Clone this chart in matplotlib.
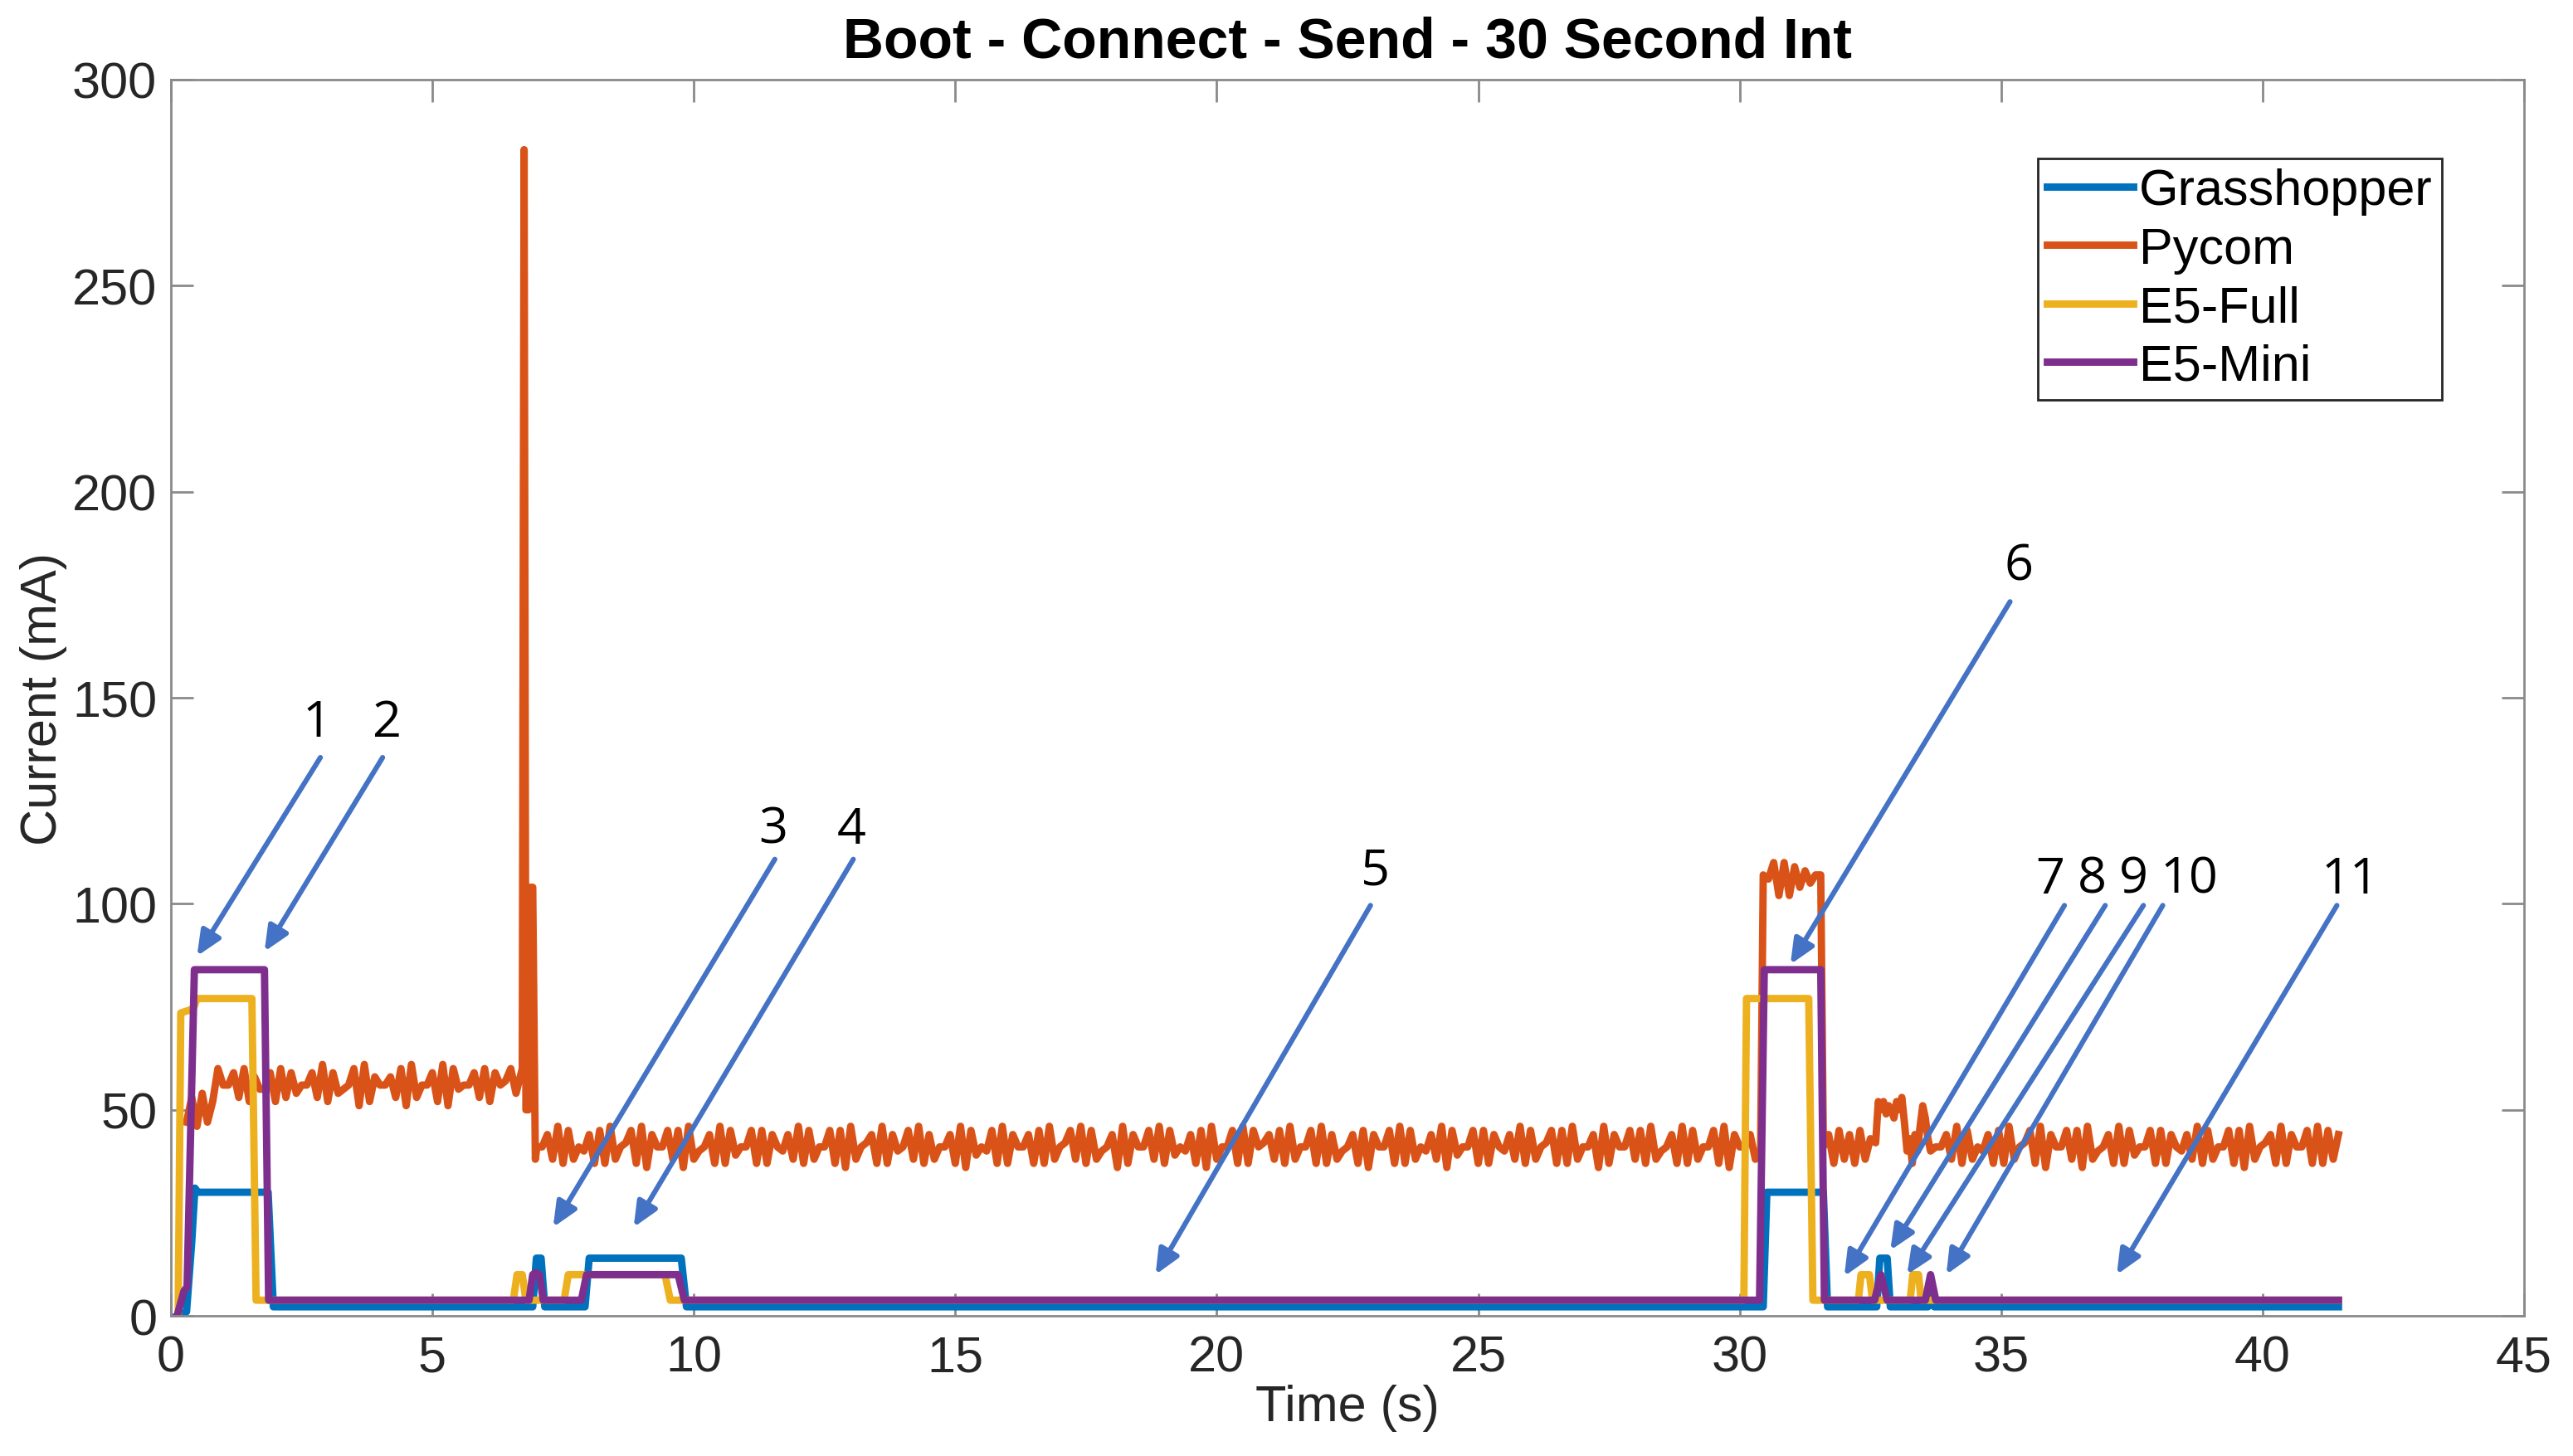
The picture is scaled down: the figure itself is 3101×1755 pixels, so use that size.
import numpy as np
import matplotlib as mpl
mpl.use('Agg')
import matplotlib.pyplot as plt


mpl.rcParams.update({
    'font.family':      ['Liberation Sans', 'DejaVu Sans'],
    'font.size':        22,
    'axes.linewidth':   1.0,
    'axes.edgecolor':   '#8a8a8a',
    'xtick.color':      '#8a8a8a', 'ytick.color': '#8a8a8a',
    'xtick.labelcolor': '#262626', 'ytick.labelcolor': '#262626',
    'xtick.direction':  'in', 'ytick.direction': 'in',
    'figure.facecolor': 'white', 'axes.facecolor': 'white',
})

# ---------------- data (time in s, current in mA) ----------------
GH_T = [0.12, 0.30, 0.40, 0.46, 0.52, 1.86, 1.96, 6.92, 6.99, 7.08, 7.15, 7.92, 8.00,
        9.76, 9.86, 30.45, 30.52, 31.60, 31.68, 32.62, 32.68, 32.82, 32.88, 33.60,
        33.66, 33.72, 41.45]
GH_I = [0, 1, 18, 31, 30, 30, 2.2, 2.2, 14, 14, 2.2, 2.2, 14,
        14, 2.2, 2.2, 30, 30, 2.2, 2.2, 14, 14, 2.2, 2.2,
        6, 2.2, 2.2]

E5F_T = [0.14, 0.19, 0.43, 0.50, 1.55, 1.63, 6.55, 6.62, 6.72, 6.79, 7.52, 7.60,
         9.45, 9.55, 30.08, 30.13, 31.32, 31.40, 32.27, 32.32, 32.48, 32.54, 33.26,
         33.31, 33.42, 33.47, 41.45]
E5F_I = [0, 73.5, 74.5, 77, 77, 3.8, 3.8, 10, 10, 3.8, 3.8, 10,
         10, 3.8, 3.8, 77, 77, 3.8, 3.8, 10, 10, 3.8, 3.8,
         10, 10, 3.8, 3.8]

E5M_T = [0.12, 0.25, 0.31, 0.45, 1.79, 1.87, 6.85, 6.92, 6.98, 7.05, 7.12, 7.85,
         7.95, 9.70, 9.82, 30.38, 30.47, 31.55, 31.62, 32.58, 32.70, 32.82, 33.55,
         33.65, 33.75, 41.45]
E5M_I = [0, 6, 7, 84, 84, 3.8, 3.8, 10, 10.5, 10, 3.8, 3.8,
         10, 10, 3.8, 3.8, 84, 84, 3.8, 3.8, 10, 3.8, 3.8,
         10, 3.8, 3.8]

# Pycom trace, piece by piece: (start time, sample step, values)
PY_BOOT_T0, PY_BOOT_DT = 0.30, 0.1
PY_BOOT = [47, 53, 46, 54, 47, 52, 60, 56, 56, 59,
           53, 60, 52, 58, 55, 55, 59, 52, 60, 53,
           59, 54, 56, 56, 59, 53, 61, 52, 59, 54,
           55, 56, 60, 51, 61, 52, 58, 56, 56, 58,
           53, 60, 51, 61, 53, 56, 56, 59, 52, 61,
           51, 60, 55, 56, 56, 59, 53, 60, 52, 59,
           56, 57, 60, 54, 59]

PY_SPIKE_T = [6.72, 6.755, 6.79, 6.84, 6.87, 6.92, 6.97]
PY_SPIKE = [60, 283, 50, 50, 104, 104, 38]

PY_IDLE1_T0, PY_IDLE1_DT = 7.0, 0.1
PY_IDLE1 = [41, 41, 44, 38, 46, 37, 45, 38, 41, 40, 44, 37, 45, 37, 46, 38, 41, 42, 45, 37, 46, 36, 44,
            41, 41, 45, 38, 45, 36, 46, 38, 40, 41, 44, 37, 46, 37, 45, 39, 41, 41, 45, 37, 45, 37, 44,
            41, 40, 44, 38, 46, 37, 45, 38, 41, 41, 45, 37, 45, 36, 46, 38, 41, 42, 44, 37, 46, 37, 44,
            40, 41, 45, 38, 46, 37, 44, 38, 41, 41, 44, 37, 46, 36, 45, 39, 41, 40, 45, 37, 46, 37, 44,
            41, 41, 44, 37, 45, 37, 46, 38, 41, 42, 45, 38, 46, 37, 45, 38, 40, 41, 44, 36, 46, 37, 44,
            41, 41, 45, 38, 46, 37, 45, 39, 41, 40, 44, 37, 45, 36, 46, 38, 41, 41, 45, 37, 46, 37, 45,
            41, 42, 44, 38, 45, 37, 46, 38, 41, 41, 45, 37, 46, 37, 44, 38, 40, 41, 44, 37, 45, 36, 44,
            41, 41, 45, 37, 46, 37, 45, 38, 41, 40, 44, 38, 46, 36, 45, 39, 41, 41, 45, 37, 45, 37, 44,
            41, 40, 44, 38, 46, 37, 45, 38, 41, 42, 45, 37, 45, 37, 46, 38, 41, 41, 44, 36, 46, 37, 44,
            41, 41, 45, 38, 45, 37, 46, 38, 40, 41, 44, 37, 46, 37, 45, 38, 41, 41, 45, 37, 46, 36, 44,
            41, 41, 44, 38, 40]

PY_TX_T0, PY_TX_DT = 30.45, 0.1
PY_TX = [107, 106, 110, 102, 110, 102, 109, 104, 108, 105, 107, 107]

PY_POST_T0, PY_POST_DT = 31.60, 0.1
PY_POST = [41, 44, 37, 45, 38, 44, 37, 45, 38, 43]

PY_RX_T0, PY_RX_DT = 32.60, 0.05
PY_RX = [42, 52, 50, 52, 49, 51, 50, 48, 52, 50, 53, 47, 40, 43, 37, 44, 40, 46, 51, 48, 43, 40]

PY_IDLE2_T0, PY_IDLE2_DT = 33.75, 0.1
PY_IDLE2 = [41, 41, 44, 38, 46, 37, 45, 38, 41, 40, 44, 37, 45, 37, 46, 38, 41, 42, 45, 37, 46, 36, 44,
            41, 41, 45, 38, 45, 36, 46, 38, 40, 41, 44, 37, 46, 37, 45, 39, 41, 41, 45, 37, 45, 37, 44,
            41, 40, 44, 38, 46, 37, 45, 38, 41, 41, 45, 37, 45, 36, 46, 38, 41, 42, 44, 37, 46, 37, 44,
            41, 41, 45, 37, 46, 37, 45, 38, 44]

SERIES_NAMES = ['Grasshopper', 'Pycom', 'E5-Full', 'E5-Mini']
SERIES_COLORS = ['#0072BD', '#D95319', '#EDB120', '#7E2F8E']

# numbered call-outs: label, text position, arrow tail, arrow tip (data units)
ANN_LABELS = ['1', '2', '3', '4', '5', '6', '7', '8', '9', '10', '11']
ANN_TEXT = [(2.79, 144), (4.14, 144), (11.52, 118), (13.02, 118), (23.03, 108), (35.33, 182),
            (35.93, 106), (36.74, 106), (37.53, 106), (38.59, 106), (41.67, 106)]
ANN_TAIL = [(2.86, 135.5), (4.05, 135.5), (11.55, 110.8), (13.05, 110.8), (22.94, 99.6), (35.17, 173.3),
            (36.21, 99.6), (36.99, 99.6), (37.72, 99.6), (38.09, 99.6), (41.42, 99.6)]
ANN_TIP = [(0.50, 87.3), (1.79, 88.4), (7.31, 21.5), (8.85, 21.5), (18.83, 10.0), (30.97, 85.3),
           (32.0, 9.6), (32.88, 15.9), (33.2, 10.0), (33.95, 10.0), (37.21, 10.0)]
ARROW_COLOR = '#4472C4'

X_TICKS = list(range(0, 46, 5))
Y_TICKS = list(range(0, 301, 50))


def steps(t0, dt, vals):
    return t0 + dt * np.arange(len(vals))


def pycom_trace():
    parts_t = [steps(PY_BOOT_T0, PY_BOOT_DT, PY_BOOT), np.array(PY_SPIKE_T),
               steps(PY_IDLE1_T0, PY_IDLE1_DT, PY_IDLE1), steps(PY_TX_T0, PY_TX_DT, PY_TX),
               steps(PY_POST_T0, PY_POST_DT, PY_POST), steps(PY_RX_T0, PY_RX_DT, PY_RX),
               steps(PY_IDLE2_T0, PY_IDLE2_DT, PY_IDLE2)]
    parts_i = [PY_BOOT, PY_SPIKE, PY_IDLE1, PY_TX, PY_POST, PY_RX, PY_IDLE2]
    return np.concatenate(parts_t), np.concatenate([np.asarray(p, float) for p in parts_i])


def plot():
    fig = plt.figure(figsize=(15.505, 8.78), dpi=200)
    ax = fig.add_axes([0.0664, 0.0962, 0.9146, 0.8486])

    py_t, py_i = pycom_trace()
    traces = [(GH_T, GH_I), (py_t, py_i), (E5F_T, E5F_I), (E5M_T, E5M_I)]
    for (t, i), name, c in zip(traces, SERIES_NAMES, SERIES_COLORS):
        ax.plot(t, i, color=c, linewidth=3.2, label=name, solid_joinstyle='round')

    for lab, txy, tail, tip in zip(ANN_LABELS, ANN_TEXT, ANN_TAIL, ANN_TIP):
        ax.annotate('', xy=tip, xytext=tail,
                    arrowprops=dict(arrowstyle='-|>,head_length=0.9,head_width=0.4',
                                    color=ARROW_COLOR, lw=2.2, shrinkA=0, shrinkB=0,
                                    mutation_scale=10))
        ax.text(txy[0], txy[1], lab, ha='center', va='center', fontsize=22,
                color='black', family=['Open Sans', 'DejaVu Sans'])

    ax.set_xlim(0, 45)
    ax.set_ylim(0, 300)
    ax.set_xticks(X_TICKS)
    ax.set_yticks(Y_TICKS)
    ax.tick_params(which='both', direction='in', top=True, right=True,
                   length=9.7, width=1.0, labelsize=22)
    ax.tick_params(axis='x', pad=8)
    ax.tick_params(axis='y', pad=6)

    ax.set_xlabel('Time (s)', fontsize=22, color='#262626', labelpad=1)
    ax.set_ylabel('Current (mA)', fontsize=22, color='#262626', labelpad=2)
    ax.set_title('Boot - Connect - Send - 30 Second Int', fontsize=24.5,
                 fontweight='bold', color='black', pad=10)

    leg = ax.legend(loc='upper right', bbox_to_anchor=(0.965, 0.936), borderaxespad=0,
                    frameon=True, fancybox=False, edgecolor='#262626', fontsize=22,
                    handlelength=1.7, handletextpad=0.12, labelspacing=0.22,
                    borderpad=0.18)
    leg.get_frame().set_linewidth(1.0)
    leg.get_frame().set_alpha(1)

    fig.savefig('out.png', dpi=200)


if __name__ == '__main__':
    plot()
